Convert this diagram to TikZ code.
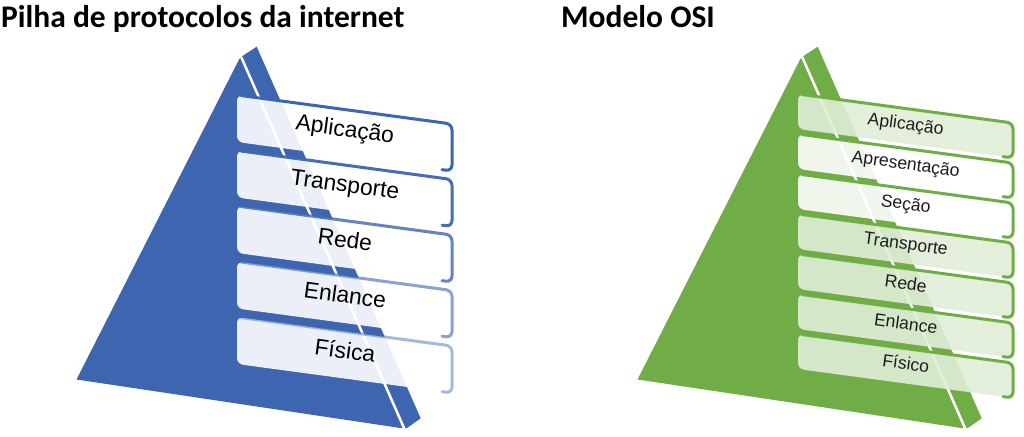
\documentclass[tikz,border=0pt]{standalone}
\usepackage{fontspec}
\setmainfont{Liberation Sans}
\newfontfamily\titlefont{Carlito}
\definecolor{pblue}{RGB}{62,101,175}
\definecolor{pgreen}{RGB}{112,173,71}
\definecolor{lgreen}{RGB}{225,238,216}
\definecolor{txtgray}{RGB}{30,30,30}
\tikzset{
  titletext/.style={anchor=base west, inner sep=0pt, font=\titlefont\bfseries\fontsize{31.5}{36}\selectfont},
  pyrface/.style={fill=#1},
  gapline/.style={draw=white, line width=2.5pt},
  boxfill/.style={fill=#1, fill opacity=0.9, draw=none, rounded corners=6pt},
  boxedge/.style={draw=#1, line width=3pt, rounded corners=6pt, line cap=round},
  bigtext/.style={rotate=-7.7, inner sep=0pt, text height=0.72em, text depth=0pt, anchor=center, text=black, font=\fontsize{22.8}{26}\selectfont},
  smalltext/.style={rotate=-7.7, inner sep=0pt, text height=0.72em, text depth=0pt, anchor=center, text=txtgray, font=\fontsize{17.6}{20}\selectfont}
}
\begin{document}
\begin{tikzpicture}[x=1pt,y=-1pt]
\useasboundingbox (0,0) rectangle (1024,436);
\fill[white] (0,0) rectangle (1024,436);

% titles
\node[titletext] (T1) at (1,28) {Pilha de protocolos da internet};
\node[titletext] (T2) at (561,28) {Modelo OSI};

% pyramids
\foreach \xs/\col in {0/pblue,561/pgreen}{
  \begin{scope}[xshift=\xs pt]
    \fill[pyrface=\col] (76.5,379.5) -- (239.3,59) -- (243.3,55.5) -- (256.7,46.7)
        -- (420.7,418.3) -- (406.7,428.2) -- (401.7,428.2) -- cycle;
    \draw[gapline] (241.3,57.2) -- (404.2,428.5);
  \end{scope}
}

% left stack (internet protocol stack)
\foreach \t/\op [count=\i from 0] in {Aplicação/1,Transporte/0.95,Rede/0.8,Enlance/0.6,Física/0.45}{
  \pgfmathsetmacro\yt{95+55.5*\i}
  \pgfmathsetmacro\ytr{\yt+0.135*215}
  \fill[boxfill=white] (237,\yt) -- (452,\ytr) -- (452,\ytr+47) -- (237,\yt+47) -- cycle;
  \draw[boxedge=pblue, draw opacity=\op] (241,\yt+0.54) -- (452,\ytr) -- (452,\ytr+47) -- (442,\ytr+47-1.35);
  \node[bigtext] (L\i) at (344.5,\yt+0.135*107.5+23.5) {\t};
}

% right stack (OSI model)
\foreach \t/\fc [count=\i from 0] in {Aplicação/lgreen,Apresentação/white,Seção/white,Transporte/lgreen,Rede/lgreen,Enlance/lgreen,Físico/lgreen}{
  \pgfmathsetmacro\yt{94+40*\i}
  \pgfmathsetmacro\ytr{\yt+0.135*215}
  \fill[boxfill=\fc] (798,\yt) -- (1013,\ytr) -- (1013,\ytr+35) -- (798,\yt+35) -- cycle;
  \draw[boxedge=pgreen] (802,\yt+0.54) -- (1013,\ytr) -- (1013,\ytr+35) -- (1003,\ytr+35-1.35);
  \node[smalltext] (R\i) at (905.5,\yt+0.135*107.5+17.5) {\t};
}
\end{tikzpicture}
\end{document}
